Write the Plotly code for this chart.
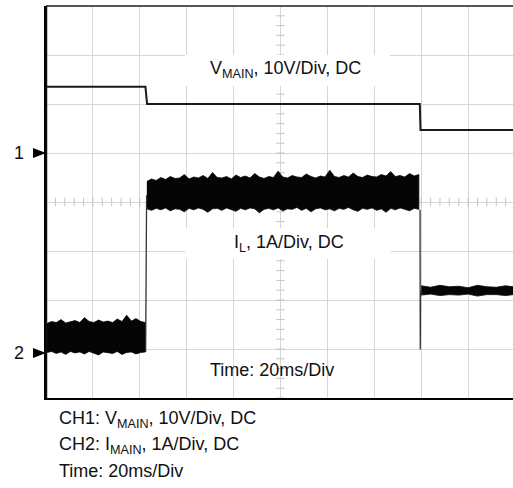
import numpy as np
import plotly.graph_objects as go

# ---- scope settings -------------------------------------------------------
T_DIV = 20.0          # ms per horizontal division
DIV_PX = 46.9         # horizontal division width in pixels
V_SCALE = 10.0        # CH1: V per division
I_SCALE = 1.0         # CH2: A per division
CH1_REF = 1.0         # CH1 ground marker (divisions from screen centre)
CH2_REF = -3.06       # CH2 ground marker

# ---- CH1: V_MAIN (V) -------------------------------------------------------
v_time = [0.4, 42.4, 43.1, 159.4, 159.7, 199.2]
v_main = [13.5, 13.5, 10.0, 10.0, 4.7, 4.7]

# ---- CH2: inductor current envelopes (A), sampled every 2 ms ---------------
seg1_t = [0.4 + 2 * k for k in range(22)]
seg1_hi = [0.58, 0.62, 0.60, 0.66, 0.59, 0.61, 0.64, 0.60, 0.70, 0.62, 0.60,
           0.65, 0.61, 0.63, 0.60, 0.67, 0.62, 0.75, 0.63, 0.68, 0.62, 0.60]
seg1_lo = [-0.01, 0.01, -0.03, 0.00, -0.05, 0.01, -0.02, 0.00, -0.04, 0.01, -0.02,
           -0.06, 0.00, -0.01, -0.03, 0.01, -0.05, -0.01, 0.00, -0.04, -0.01, 0.00]

seg2_t = [43.0 + 2 * k for k in range(59)]
seg2_hi = [3.48, 3.53, 3.50, 3.56, 3.52, 3.58, 3.54, 3.55, 3.62, 3.53, 3.57, 3.55,
           3.60, 3.54, 3.66, 3.56, 3.55, 3.58, 3.53, 3.61, 3.56, 3.59, 3.55, 3.64,
           3.57, 3.54, 3.58, 3.56, 3.69, 3.57, 3.55, 3.60, 3.57, 3.56, 3.63, 3.58,
           3.55, 3.59, 3.57, 3.71, 3.58, 3.56, 3.60, 3.57, 3.65, 3.58, 3.56, 3.61,
           3.58, 3.57, 3.62, 3.59, 3.68, 3.58, 3.60, 3.57, 3.64, 3.59, 3.62]
seg2_lo = [2.92, 2.89, 2.93, 2.90, 2.94, 2.88, 2.92, 2.91, 2.86, 2.93, 2.90, 2.94,
           2.91, 2.85, 2.92, 2.93, 2.89, 2.94, 2.91, 2.87, 2.93, 2.90, 2.94, 2.92,
           2.84, 2.91, 2.93, 2.90, 2.94, 2.88, 2.92, 2.91, 2.95, 2.89, 2.93, 2.86,
           2.92, 2.94, 2.90, 2.92, 2.88, 2.93, 2.91, 2.95, 2.90, 2.87, 2.93, 2.91,
           2.94, 2.89, 2.92, 2.85, 2.93, 2.90, 2.94, 2.91, 2.88, 2.93, 2.91]

seg3_t = [160.0, 164, 168, 172, 176, 180, 184, 188, 192, 196, 199.2]
seg3_hi = [1.35, 1.32, 1.36, 1.33, 1.34, 1.31, 1.36, 1.33, 1.32, 1.35, 1.33]
seg3_lo = [1.16, 1.18, 1.15, 1.17, 1.16, 1.18, 1.14, 1.17, 1.17, 1.15, 1.17]

# load-step edges of the current trace
edge_t = [[42.5, 42.9], [159.5, 159.6, 159.7]]
edge_i = [[0.0, 3.2], [2.9, 0.05, 1.25]]

# ---- text ----------------------------------------------------------------
ch1_label = "V<sub>MAIN</sub>, 10V/Div, DC"
ch2_label = "I<sub>L</sub>, 1A/Div, DC"
time_label = "Time: 20ms/Div"
notes = ["CH1: V<sub>MAIN</sub>, 10V/Div, DC",
         "CH2: I<sub>MAIN</sub>, 1A/Div, DC",
         "Time: 20ms/Div"]

# ---- geometry helpers (pixel -> paper) -----------------------------------
W, H = 513, 488
L, T, B = 46, 6, 90
PW, PH = W - L, H - T - B


def px(x):
    return (x - L) / PW


def py(y):
    return (T + PH - y) / PH


def ch1(v):
    return [CH1_REF + val / V_SCALE for val in v]


def ch2(a):
    return [CH2_REF + val / I_SCALE for val in a]


FONT = "Liberation Sans, Arial, sans-serif"
fig = go.Figure()

# graticule ticks along the centre lines
yt = np.arange(-4, 4.01, 0.2)
fig.add_trace(go.Scatter(x=[100] * len(yt), y=yt, mode="markers",
                         marker=dict(symbol="line-ew", size=6,
                                     line=dict(width=1, color="#c4c4c4")),
                         hoverinfo="skip", showlegend=False))
xt = np.arange(0, 200.1, 4)
fig.add_trace(go.Scatter(x=xt, y=[0] * len(xt), mode="markers",
                         marker=dict(symbol="line-ns", size=6,
                                     line=dict(width=1, color="#c4c4c4")),
                         hoverinfo="skip", showlegend=False))

# CH2 noisy current bands
for t, hi, lo in [(seg1_t, seg1_hi, seg1_lo),
                  (seg2_t, seg2_hi, seg2_lo),
                  (seg3_t, seg3_hi, seg3_lo)]:
    fig.add_trace(go.Scatter(x=t + t[::-1], y=ch2(hi) + ch2(lo)[::-1],
                             fill="toself", fillcolor="#050505", mode="lines",
                             line=dict(color="#050505", width=0.8),
                             hoverinfo="skip", showlegend=False))
for t, a in zip(edge_t, edge_i):
    fig.add_trace(go.Scatter(x=t, y=ch2(a), mode="lines",
                             line=dict(color="#333333", width=1.3),
                             hoverinfo="skip", showlegend=False))

# CH1 trace
fig.add_trace(go.Scatter(x=v_time, y=ch1(v_main), mode="lines",
                         line=dict(color="#1a1a1a", width=2),
                         hoverinfo="skip", showlegend=False))

shapes = [
    # label backgrounds
    dict(type="rect", xref="paper", yref="paper", x0=px(185), x1=px(390),
         y0=py(86), y1=py(55), fillcolor="white", line=dict(width=0), layer="above"),
    dict(type="rect", xref="paper", yref="paper", x0=px(185), x1=px(391),
         y0=py(259), y1=py(228), fillcolor="white", line=dict(width=0), layer="above"),
    # frame edges
    dict(type="line", xref="paper", yref="paper", x0=0, x1=1, y0=1, y1=1,
         line=dict(color="#555555", width=2)),
    dict(type="line", xref="paper", yref="paper", x0=px(46.5), x1=px(46.5), y0=0, y1=1,
         line=dict(color="#111111", width=1.5)),
    # channel ground markers
    dict(type="path", xref="paper", yref="paper",
         path=f"M {px(33)} {py(148)} L {px(33)} {py(158)} L {px(46)} {py(153)} Z",
         fillcolor="black", line=dict(width=0)),
    dict(type="path", xref="paper", yref="paper",
         path=f"M {px(33)} {py(348)} L {px(33)} {py(358)} L {px(46)} {py(353)} Z",
         fillcolor="black", line=dict(width=0)),
]

annotations = [
    dict(text=ch1_label, x=px(208), y=py(70), xanchor="left", yanchor="middle"),
    dict(text=ch2_label, x=px(232), y=py(243), xanchor="left", yanchor="middle"),
    dict(text=time_label, x=px(208), y=py(370), xanchor="left", yanchor="middle"),
    dict(text="1", x=px(18.5), y=py(153), xanchor="center", yanchor="middle"),
    dict(text="2", x=px(18.5), y=py(353), xanchor="center", yanchor="middle"),
]
for i, line in enumerate(notes):
    annotations.append(dict(text=line, x=px(57), y=py(420 + 25.5 * i),
                            xanchor="left", yanchor="middle"))
for a in annotations:
    a.update(xref="paper", yref="paper", showarrow=False,
             font=dict(family=FONT, size=18, color="#111111"))

grid = "#d6d6d6"
fig.update_layout(
    width=W, height=H,
    margin=dict(l=L, r=0, t=T, b=B, pad=0),
    paper_bgcolor="white", plot_bgcolor="white",
    xaxis=dict(range=[0, PW / DIV_PX * T_DIV],
               dtick=T_DIV, tick0=0, showgrid=True, gridcolor=grid, gridwidth=1,
               zeroline=False, showticklabels=False, ticks="",
               showline=True, linecolor="black", linewidth=2, fixedrange=True),
    yaxis=dict(range=[-4, 4], dtick=1, tick0=0, showgrid=True, gridcolor=grid,
               gridwidth=1, zeroline=False, showticklabels=False, ticks="",
               showline=True, linecolor="black", linewidth=1.5, fixedrange=True),
    shapes=shapes, annotations=annotations, showlegend=False,
)

fig.write_html("out.html")
